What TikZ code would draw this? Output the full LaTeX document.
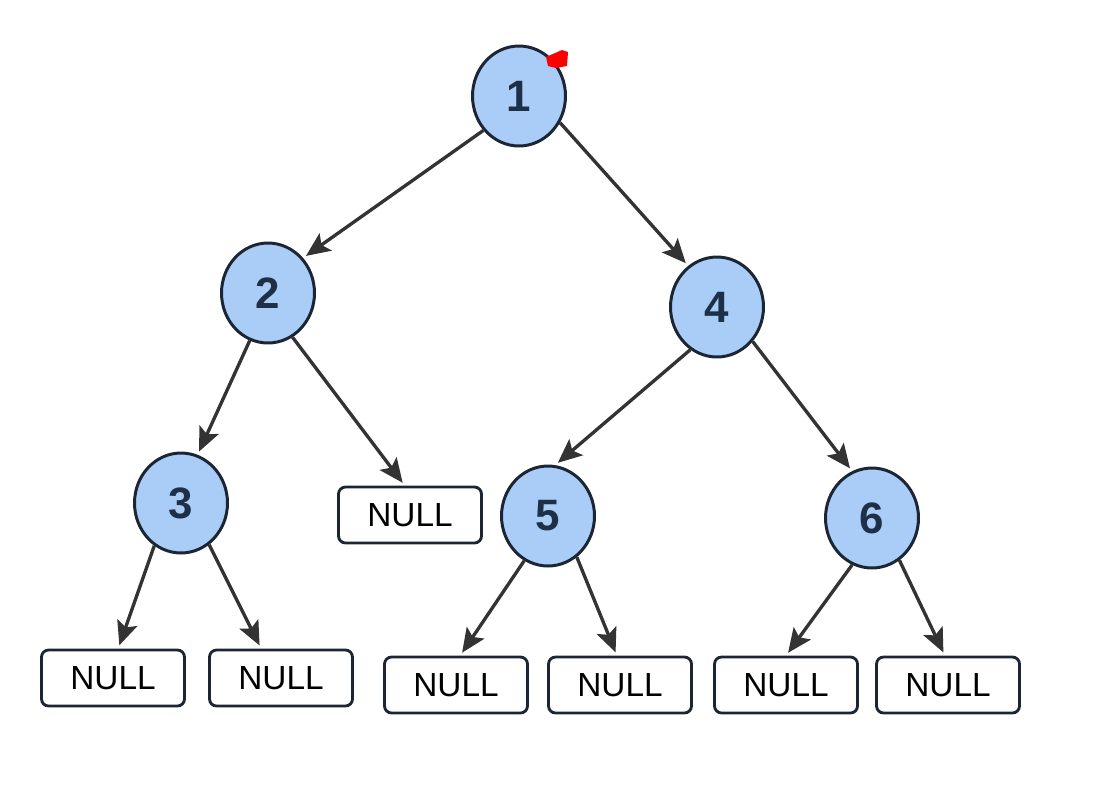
\documentclass[tikz,border=0pt]{standalone}
\usepackage{fontspec}
\setmainfont{Liberation Sans}
\usetikzlibrary{arrows.meta,positioning}
\usetikzlibrary{shapes.geometric}

\definecolor{nodefill}{HTML}{A9CDF7}
\definecolor{nodeline}{HTML}{1C2533}
\definecolor{numtext}{HTML}{1E3048}
\definecolor{edgeline}{HTML}{333333}

\begin{document}
\begin{tikzpicture}[
    x=0.02cm, y=-0.02cm,
    tree/.style={ellipse,draw=nodeline,fill=nodefill,line width=1.7pt,
        minimum width=1.86cm,minimum height=2.0cm,inner sep=0pt,
        text=numtext,font=\fontsize{25}{25}\selectfont\bfseries},
    leaf/.style={rectangle,rounded corners=4pt,draw=nodeline,fill=white,
        line width=1.6pt,minimum width=2.86cm,minimum height=1.12cm,
        inner sep=0pt,font=\fontsize{19}{19}\selectfont},
    edge/.style={-{Stealth[length=0.48cm,width=0.42cm,inset=0.1cm]},edgeline,
        line width=1.9pt,shorten >=2pt},
]

\useasboundingbox (0,0) rectangle (1115,799);

%----------------------------------
% Tree nodes
%----------------------------------

\node[tree] (n1) at (519,96) {1};

\node[tree] (n2) at (268,293) {2};
\node[tree] (n4) at (717,307) {4};

\node[tree] (n3) at (181,503) {3};
\node[tree] (n5) at (548,516) {5};
\node[tree] (n6) at (872,518) {6};

%----------------------------------
% NULL leaves
%----------------------------------

\node[leaf] (null2) at (410,515) {NULL};

\node[leaf] (null3a) at (113,678) {NULL};
\node[leaf] (null3b) at (281,678) {NULL};

\node[leaf] (null5a) at (456,685) {NULL};
\node[leaf] (null5b) at (620,685) {NULL};

\node[leaf] (null6a) at (786,685) {NULL};
\node[leaf] (null6b) at (948,685) {NULL};

%----------------------------------
% Edges
%----------------------------------

\draw[edge] (n1.224) -- (n2.45);
\draw[edge] (n1.327) -- (n4.125);

\draw[edge] (n2.249) -- (n3.71);
\draw[edge] (n2.299) -- (null2.100);

\draw[edge] (n4.238) -- (n5.82);
\draw[edge] (n4.316) -- (n6.113);

\draw[edge] (n3.238) -- (null3a.80);
\draw[edge] (n3.304) -- (null3b.124);

\draw[edge] (n5.242) -- (null5a.82);
\draw[edge] (n5.305) -- (null5b.96);

\draw[edge] (n6.247) -- (null6a.north);
\draw[edge] (n6.303) -- (null6b.96);

% red mark at the top of node 1
\fill[red] (546,57) -- (562,50) -- (568,52) -- (567,66) -- (556,68) -- (548,66) -- cycle;

\end{tikzpicture}
\end{document}
